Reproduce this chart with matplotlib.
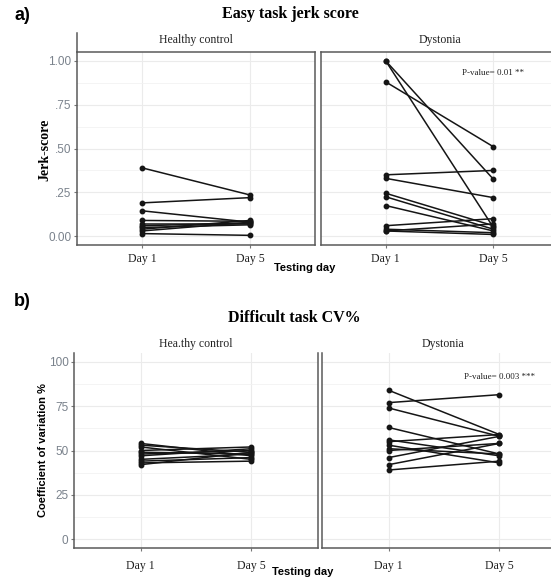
import matplotlib
matplotlib.use("Agg")
from matplotlib import pyplot as plt
from matplotlib.lines import Line2D

W, H = 551, 579

days = ["Day 1", "Day 5"]

# easy task jerk score
hc_jerk_d1 = [0.39, 0.19, 0.145, 0.09, 0.07, 0.06, 0.05, 0.04, 0.03, 0.015]
hc_jerk_d5 = [0.235, 0.22, 0.08, 0.085, 0.07, 0.075, 0.065, 0.09, 0.08, 0.005]
dys_jerk_d1 = [1.00, 1.00, 0.88, 0.35, 0.33, 0.245, 0.225, 0.175, 0.06, 0.04, 0.03, 0.03]
dys_jerk_d5 = [0.05, 0.325, 0.51, 0.375, 0.22, 0.06, 0.04, 0.03, 0.10, 0.02, 0.07, 0.01]

# difficult task CV%
hc_cv_d1 = [54, 53, 52, 50, 49, 48, 47, 45, 44, 43, 42]
hc_cv_d5 = [47, 49, 45, 52, 48, 50, 51, 48, 46, 44, 49]
dys_cv_d1 = [84, 77, 74, 63, 56, 55, 53, 51, 50, 46, 42, 39]
dys_cv_d5 = [59, 81.5, 58, 48, 47, 59, 43, 48, 54, 58, 54, 44]

jerk_ticks = [0, 0.25, 0.5, 0.75, 1.0]
jerk_ticklabels = ["0.00", ".25", ".50", ".75", "1.00"]
cv_ticks = [0, 25, 50, 75, 100]
cv_ticklabels = ["0", "25", "50", "75", "100"]

serif = "Liberation Serif"
sans = "Liberation Sans"
tick_grey = "#7a828c"
frame = "#5a5a5a"


def rect(x0, y0, x1, y1):
    # pixel box -> figure fraction
    return [x0 / W, 1 - y1 / H, (x1 - x0) / W, (y1 - y0) / H]


def ftext(x, y, s, **kw):
    fig.text(x / W, 1 - y / H, s, **kw)


def panel(box, d1, d5, ylim, ticks, labels, minor, show_y, full_box, xpad):
    ax = fig.add_axes(rect(*box))
    for a, b in zip(d1, d5):
        ax.plot([1, 2], [a, b], color="#151515", lw=1.1,
                marker="o", ms=3.2, zorder=3)
    ax.set_xlim(0.4, 2.6)
    ax.set_ylim(*ylim)
    ax.set_xticks([1, 2])
    ax.set_xticklabels(days, fontfamily=serif, fontsize=8.5, color="#222222")
    ax.set_yticks(ticks)
    ax.set_yticks(minor, minor=True)
    ax.set_yticklabels(labels if show_y else [], fontfamily=sans,
                       fontsize=8.5, color=tick_grey)
    ax.tick_params(axis="both", which="major", length=2.5, color="#777777",
                   width=0.8)
    ax.tick_params(axis="x", pad=xpad)
    ax.tick_params(axis="y", pad=1.5)
    ax.tick_params(axis="y", which="minor", length=0)
    if not show_y:
        ax.tick_params(axis="y", length=0)
    ax.grid(True, which="major", color="#ebebeb", lw=0.8)
    ax.grid(True, which="minor", axis="y", color="#f2f2f2", lw=0.6)
    ax.set_axisbelow(True)
    for s in ax.spines.values():
        s.set_color(frame)
        s.set_linewidth(1.1)
    if not full_box:
        ax.spines["top"].set_visible(False)
    return ax


fig = plt.figure(figsize=(W / 100, H / 100), dpi=100)

# a) easy task
jl = (-0.05, 1.05)
jminor = [0.125, 0.375, 0.625, 0.875]
panel((77, 52, 315, 245), hc_jerk_d1, hc_jerk_d5, jl, jerk_ticks,
      jerk_ticklabels, jminor, True, True, 3)
ax_a2 = panel((321, 52, 558, 245), dys_jerk_d1, dys_jerk_d5, jl, jerk_ticks,
              jerk_ticklabels, jminor, False, True, 3)
ax_a2.text(2.0, 0.93, "P-value= 0.01 **", fontfamily=serif, fontsize=6.5,
           color="#222222", ha="center", va="center")
fig.add_artist(Line2D([77 / W, 77 / W], [1 - 33 / H, 1 - 52 / H],
                      color=frame, lw=1.1))

# b) difficult task
cl = (-5, 105)
cminor = [12.5, 37.5, 62.5, 87.5]
panel((74, 353, 318, 548), hc_cv_d1, hc_cv_d5, cl, cv_ticks,
      cv_ticklabels, cminor, True, False, 6)
ax_b2 = panel((322, 353, 566, 548), dys_cv_d1, dys_cv_d5, cl, cv_ticks,
              cv_ticklabels, cminor, False, False, 6)
ax_b2.text(2.0, 91.5, "P-value= 0.003 ***", fontfamily=serif, fontsize=6.5,
           color="#222222", ha="center", va="center")

# titles, strips, labels
ftext(22, 16, "a)", fontfamily=sans, fontsize=13, fontweight="bold",
      ha="center", va="center")
ftext(22, 302, "b)", fontfamily=sans, fontsize=13, fontweight="bold",
      ha="center", va="center")
ftext(290, 14, "Easy task jerk score", fontfamily=serif, fontsize=11.5,
      fontweight="bold", ha="center", va="center")
ftext(294, 318, "Difficult task CV%", fontfamily=serif, fontsize=11.5,
      fontweight="bold", ha="center", va="center")
ftext(196, 40, "Healthy control", fontfamily=serif, fontsize=8.5,
      ha="center", va="center", color="#222222")
ftext(440, 40, "Dystonia", fontfamily=serif, fontsize=8.5,
      ha="center", va="center", color="#222222")
ftext(196, 344, "Hea.thy control", fontfamily=serif, fontsize=8.5,
      ha="center", va="center", color="#222222")
ftext(443, 344, "Dystonia", fontfamily=serif, fontsize=8.5,
      ha="center", va="center", color="#222222")
ftext(45, 150, "Jerk-score", fontfamily=serif, fontsize=10,
      fontweight="bold", rotation=90, ha="center", va="center")
ftext(43, 450, "Coefficient of variation %", fontfamily=sans, fontsize=8,
      fontweight="bold", rotation=90, ha="center", va="center")
ftext(305, 268, "Testing day", fontfamily=sans, fontsize=8,
      fontweight="bold", ha="center", va="center")
ftext(303, 572, "Testing day", fontfamily=sans, fontsize=8,
      fontweight="bold", ha="center", va="center")

fig.savefig("out.png", dpi=100)
